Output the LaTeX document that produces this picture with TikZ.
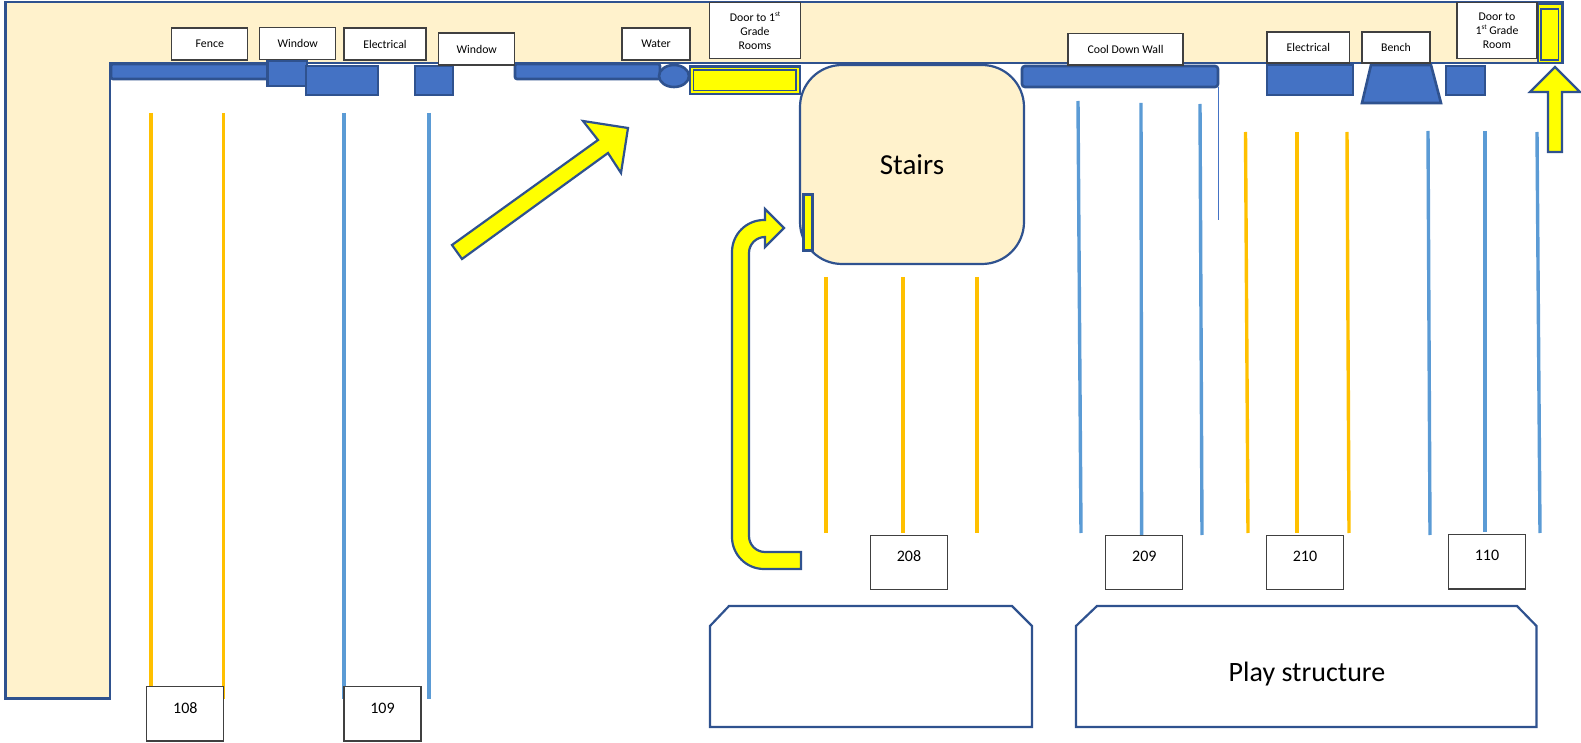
\documentclass[tikz,border=0pt]{standalone}
\usepackage{fontspec}
\setmainfont{Carlito}
\definecolor{wall}{HTML}{2F528F}
\definecolor{block}{HTML}{4472C4}
\definecolor{sand}{HTML}{FFF2CC}
\definecolor{gold}{HTML}{FFC000}
\definecolor{sky}{HTML}{5B9BD5}
\definecolor{sign}{HTML}{FFFF00}
\definecolor{ink}{HTML}{404040}
\tikzset{
  base/.style={draw=wall, line width=1.1pt, line join=miter},
  area/.style={base, fill=sand},
  solid block/.style={base, fill=block, line width=1.3pt},
  route/.style={base, fill=sign},
  goldline/.style={draw=gold, line width=1.7pt},
  skyline/.style={draw=sky, line width=1.7pt},
  lab/.style={draw=ink, fill=white, line width=0.6pt, inner sep=0pt, align=center, font=\fontsize{5.9}{7.3}\selectfont},
  numbox/.style={draw=ink, fill=white, line width=0.6pt, inner sep=0pt, minimum width=38.5pt, text height=13.2pt, text depth=14pt, font=\fontsize{8}{9}\selectfont},
}
\newcommand{\smallst}{\raisebox{0.9ex}{\fontsize{3.6}{4}\selectfont st}}
\begin{document}
\begin{tikzpicture}[x=0.5pt,y=-0.5pt]
  \useasboundingbox (0,0) rectangle (1581,743);
  \draw[area] (5.5,2) -- (1563,2) -- (1563,63) -- (110,63) -- (110,698.5) -- (5.5,698.5) -- cycle;

  \draw[solid block,rounded corners=1pt] (111,64) rectangle (268,79);
  \draw[solid block] (267.5,61) rectangle (307,86);
  \draw[solid block] (306,66) rectangle (378,95);
  \draw[solid block] (415,66) rectangle (453,95);
  \draw[solid block,rounded corners=1pt] (515,64) rectangle (660,79);
  \draw[solid block] (674,76) ellipse (15 and 11);
  \draw[solid block,rounded corners=1.5pt] (1022,66) rectangle (1218,87);
  \draw[draw=block,line width=0.5pt] (1218,87) -- (1218,220);
  \draw[solid block] (1267,65) rectangle (1353,95);
  \draw[solid block] (1371,65) -- (1431,65) -- (1441,103) -- (1362,103) -- cycle;
  \draw[solid block] (1446,66) rectangle (1485,95);

  \draw[route,line width=1.3pt] (690,66.5) rectangle (800,94);
  \draw[route,line width=0.9pt] (693.5,70) rectangle (796,90.5);
  \draw[route,line width=1.3pt] (1538,3.5) rectangle (1562.5,63);
  \draw[route,line width=0.9pt] (1541,9) rectangle (1558.5,60);

  \node[area,rounded corners=21pt,minimum width=112pt,minimum height=99.5pt,inner sep=0pt,font=\fontsize{14.5}{16}\selectfont] (stairs) at (912,164.5) {\raisebox{-0.5pt}{Stairs}};
  \draw[route,line width=1.5pt] (803.5,194.5) rectangle (812.5,250.5);

  \draw[route] (452,245) -- (598,140) -- (583,121) -- (628,128) -- (621,173) -- (608,153) -- (462,259) -- cycle;
  \draw[route] (1555,67) -- (1580,92) -- (1562,92) -- (1562,152) -- (1548,152) -- (1548,92) -- (1530,92) -- cycle;
  \draw[route] (801,552) [rounded corners=8pt] -- (749,552) -- (749,237) [sharp corners] -- (765,237) -- (765,247) -- (784,228) -- (765,209) -- (765,220) [rounded corners=16pt] -- (732,220) -- (732,569) [sharp corners] -- (801,569) -- cycle;

  \foreach \xa/\ya/\xb/\yb in {151/113/151/699, 223.6/113/223.6/699, 826/277/826/533, 903/277/903/533, 977/277/977/533, 1245.5/132/1248/533, 1297/132/1297/533, 1347/132/1349/533}
    \draw[goldline] (\xa,\ya) -- (\xb,\yb);
  \foreach \xa/\ya/\xb/\yb in {344/113/344/699, 429/113/429/699, 1078/101/1081/533, 1141/103/1141.6/535, 1200/104/1202/535, 1428/131/1430/535, 1485/131/1485/532, 1537/132/1540/533}
    \draw[skyline] (\xa,\ya) -- (\xb,\yb);

  \draw[base] (729,606) -- (1012,606) -- (1032,626) -- (1032,727) -- (710,727) -- (710,626) -- cycle;
  \draw[base] (1097,606) -- (1517,606) -- (1536.5,626) -- (1536.5,727) -- (1076,727) -- (1076,626) -- cycle;
  \node[font=\fontsize{14}{16}\selectfont,inner sep=0pt] (play) at (1307,674.5) {Play structure};

  \node[lab,minimum width=38pt,minimum height=16pt] (fence) at (209.8,44) {Fence};
  \node[lab,minimum width=38pt,minimum height=16pt] (windowa) at (297.8,43.5) {Window};
  \node[lab,minimum width=41pt,minimum height=16pt] (electricala) at (385,44) {Electrical};
  \node[lab,minimum width=38pt,minimum height=16pt] (windowb) at (476.8,49) {Window};
  \node[lab,minimum width=34pt,minimum height=16pt] (water) at (656,44) {Water};
  \node[lab,minimum width=45.5pt,minimum height=28.2pt] (doora) at (755,30.7) {\raisebox{-1pt}{Door to 1\smallst}\\[-0.3pt]\raisebox{-1pt}{Grade}\\\raisebox{-1pt}{Rooms}};
  \node[lab,minimum width=57.5pt,minimum height=15.8pt] (cool) at (1125.5,49.2) {Cool Down Wall};
  \node[lab,minimum width=41.3pt,minimum height=15.5pt] (electricalb) at (1308.3,47.5) {Electrical};
  \node[lab,minimum width=34pt,minimum height=15.5pt] (bench) at (1396,47.5) {Bench};
  \node[lab,minimum width=40pt,minimum height=28.2pt] (doorb) at (1497,30.7) {\raisebox{-1pt}{Door to}\\[-0.3pt]\raisebox{-1pt}{1\smallst{} Grade}\\\raisebox{-1pt}{Room}};

  \node[numbox] (r108) at (185.3,713.8) {108};
  \node[numbox] (r109) at (382.5,713.8) {109};
  \node[numbox] (r208) at (909,562.5) {208};
  \node[numbox] (r209) at (1144.3,562.5) {209};
  \node[numbox] (r210) at (1305,562.5) {210};
  \node[numbox] (r110) at (1487,561.7) {110};
\end{tikzpicture}
\end{document}
